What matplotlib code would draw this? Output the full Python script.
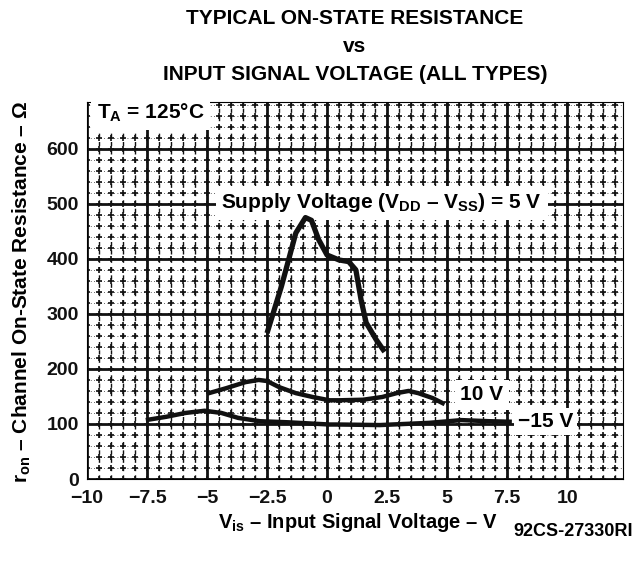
import numpy as np
import matplotlib
matplotlib.use("Agg")
import matplotlib.pyplot as plt

plt.rcParams['font.family'] = ['Liberation Sans', 'DejaVu Sans']
plt.rcParams['font.weight'] = 'bold'
plt.rcParams['mathtext.fontset'] = 'custom'
plt.rcParams['mathtext.rm'] = 'Liberation Sans:bold'
plt.rcParams['mathtext.it'] = 'Liberation Sans:bold'
plt.rcParams['mathtext.bf'] = 'Liberation Sans:bold'

# ---- data ----
v5_x = [-2.5, -1.9, -1.3, -0.9, -0.65, -0.35, 0.0, 0.5, 0.9, 1.2, 1.42, 1.63, 2.05, 2.4]
v5_y = [265, 350, 447, 475, 470, 435, 407, 398, 395, 380, 325, 284, 253, 231]

v10_x = [-5.0, -4.2, -3.4, -2.85, -2.5, -2.0, -1.3, -0.6, 0.1, 0.5, 1.5, 2.3, 2.9, 3.4, 3.8, 4.4, 4.9]
v10_y = [155, 165, 176, 180, 178, 167, 156, 149, 143, 143, 144, 149, 156, 160, 156, 147, 136]

v15_x = [-7.55, -6.7, -5.9, -5.1, -4.4, -3.7, -2.8, -1.6, 0.1, 0.5, 2.2, 4.25, 5.6, 6.75, 7.7]
v15_y = [107, 113, 120, 124, 120, 111, 105, 103, 99, 99, 98, 102, 107, 105, 104]

x_ticks = [-10, -7.5, -5, -2.5, 0, 2.5, 5, 7.5, 10]
x_tick_labels = ['\u221210', '\u22127.5', '\u22125', '\u22122.5', '0', '2.5', '5', '7.5', '10']
y_ticks = [0, 100, 200, 300, 400, 500, 600]
y_tick_labels = ['0', '100', '200', '300', '400', '500', '600']

W, H = 644, 568
fig = plt.figure(figsize=(W / 100, H / 100), dpi=100)
L, R, T, B = 87, 623, 102, 479
ax = fig.add_axes([L / W, 1 - B / H, (R - L) / W, (B - T) / H])
ax.set_xlim(-10, 12.33)
ax.set_ylim(0, 685)

ax.set_xticks(x_ticks)
ax.set_xticklabels(x_tick_labels, fontsize=14, fontweight='bold')
ax.set_yticks(y_ticks)
ax.set_yticklabels(y_tick_labels, fontsize=14, fontweight='bold')
minor_x = np.arange(-10, 12.4, 0.5)
minor_y = np.arange(0, 690, 20)
ax.set_xticks(minor_x, minor=True)
ax.set_yticks(minor_y, minor=True)
ax.tick_params(which='both', length=0, colors='#111111')
ax.tick_params(axis='x', pad=8)
ax.tick_params(axis='y', pad=6)

ax.set_axisbelow(True)
ax.grid(which='major', color='#111111', linewidth=2.0)
ax.grid(which='minor', axis='x', color='#111111', linewidth=1.0, linestyle=(0, (3, 3)))
ax.grid(which='minor', axis='y', color='#333333', linewidth=0.6, linestyle=(0, (1, 3)))
gx, gy = np.meshgrid(minor_x, minor_y)
ax.plot(gx.ravel(), gy.ravel(), linestyle='none', marker='+', markersize=4.5,
        markeredgewidth=1.2, color='#111111', zorder=1.5)

ax.text(-9.6, 665, 'T$_\\mathrm{A}$ = 125\u00b0C', fontsize=15, fontweight='bold',
        ha='left', va='center', bbox=dict(facecolor='white', edgecolor='none', pad=4), zorder=5)
ax.text(-4.4, 502, 'Supply Voltage (V$_\\mathrm{DD}$ \u2013 V$_\\mathrm{SS}$) = 5 V', fontsize=15,
        fontweight='bold', ha='left', va='center',
        bbox=dict(facecolor='white', edgecolor='none', pad=4), zorder=5)
ax.text(5.55, 153, '10 V', fontsize=15, fontweight='bold', ha='left', va='center',
        bbox=dict(facecolor='white', edgecolor='none', pad=4), zorder=5)
ax.text(7.95, 104, '\u221215 V', fontsize=15, fontweight='bold', ha='left', va='center',
        bbox=dict(facecolor='white', edgecolor='none', pad=3), zorder=5)

ax.plot(v5_x, v5_y, color='#111111', linewidth=3.8, solid_capstyle='butt', zorder=6)
ax.plot(v10_x, v10_y, color='#111111', linewidth=3.2, solid_capstyle='butt', zorder=6)
ax.plot(v15_x, v15_y, color='#111111', linewidth=3.2, solid_capstyle='butt', zorder=6)

cx = (L + R) / 2 / W
fig.text(cx, 1 - 19 / H, 'TYPICAL ON-STATE RESISTANCE', fontsize=15, fontweight='bold',
         ha='center', va='center')
fig.text(cx, 1 - 46 / H, 'vs', fontsize=15, fontweight='bold', ha='center', va='center')
fig.text(cx, 1 - 75 / H, 'INPUT SIGNAL VOLTAGE (ALL TYPES)', fontsize=15, fontweight='bold',
         ha='center', va='center')

fig.text(358 / W, 1 - 522 / H, 'V$_\\mathrm{is}$ \u2013 Input Signal Voltage \u2013 V', fontsize=14.5,
         fontweight='bold', ha='center', va='center')
fig.text(573 / W, 1 - 531 / H, '92CS-27330RI', fontsize=13, fontweight='bold',
         ha='center', va='center')
fig.text(22 / W, 1 - 292 / H, 'r$_\\mathrm{on}$ \u2013 Channel On-State Resistance \u2013 \u03a9',
         fontsize=15, fontweight='bold', ha='center', va='center', rotation=90)

fig.savefig('out.png', dpi=100)
